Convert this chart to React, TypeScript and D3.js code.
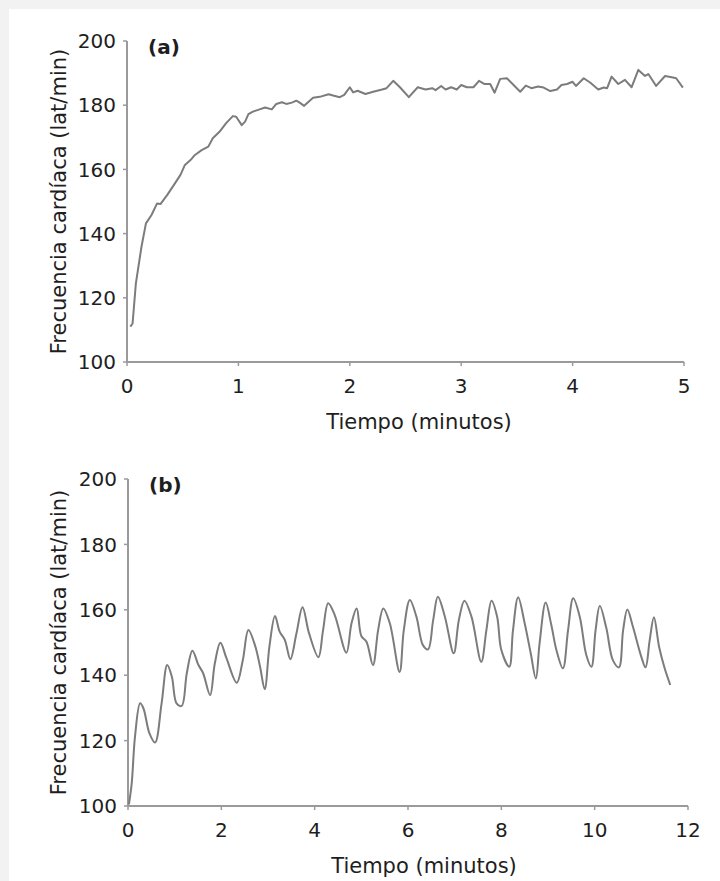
import React from 'react';
import { scaleLinear, line, curveLinear, curveCatmullRom } from 'd3';

// panel (a): continuous exercise, time in minutes and heart rate
const timeA = [
  0.03, 0.05, 0.08, 0.13, 0.17, 0.22, 0.27, 0.3, 0.36, 0.42, 0.48, 0.52, 0.57, 0.61, 0.67, 0.73, 0.77,
  0.83, 0.89, 0.95, 0.98, 1.03, 1.06, 1.09, 1.13, 1.19, 1.24, 1.3, 1.34, 1.39, 1.43, 1.48, 1.52, 1.55,
  1.59, 1.63, 1.67, 1.73, 1.81, 1.85, 1.91, 1.95, 2.0, 2.03, 2.07, 2.14, 2.21, 2.29, 2.33, 2.39, 2.45,
  2.53, 2.61, 2.68, 2.74, 2.77, 2.82, 2.86, 2.91, 2.96, 3.0, 3.05, 3.11, 3.16, 3.21, 3.26, 3.3, 3.35,
  3.41, 3.47, 3.53, 3.58, 3.63, 3.69, 3.74, 3.8, 3.86, 3.9, 3.95, 4.0, 4.03, 4.1, 4.16, 4.23, 4.28,
  4.31, 4.35, 4.41, 4.47, 4.53, 4.59, 4.65, 4.68, 4.75, 4.83, 4.89, 4.93, 4.99,
];
const heartRateA = [
  111, 112, 124.6, 135.9, 143.2, 145.8, 149.4, 149.2, 152, 155.1, 158.3, 161.4, 162.9, 164.5, 166, 167.1,
  169.7, 171.7, 174.4, 176.6, 176.4, 173.8, 174.9, 177.2, 178, 178.7, 179.3, 178.7, 180.4, 180.9, 180.4,
  180.8, 181.4, 180.8, 179.8, 181.1, 182.3, 182.6, 183.4, 183, 182.5, 183.2, 185.6, 184, 184.5, 183.5,
  184.2, 184.9, 185.3, 187.6, 185.6, 182.5, 185.6, 184.9, 185.3, 184.7, 186, 184.9, 185.6, 184.9, 186.3,
  185.6, 185.6, 187.6, 186.6, 186.6, 183.9, 188.2, 188.4, 186.3, 184.2, 186.1, 185.3, 185.8, 185.5,
  184.4, 184.9, 186.3, 186.6, 187.3, 186, 188.4, 187, 184.9, 185.5, 185.3, 188.9, 186.6, 187.9, 185.6,
  191, 189.1, 189.7, 186, 189.1, 188.7, 188.4, 185.5,
];

// panel (b): interval exercise
const timeB = [
  0.02, 0.08, 0.15, 0.26, 0.33, 0.46, 0.58, 0.72, 0.84, 0.94, 1.04, 1.15, 1.26, 1.38, 1.51, 1.61, 1.76,
  1.86, 1.98, 2.11, 2.33, 2.46, 2.58, 2.72, 2.83, 2.93, 3.03, 3.15, 3.25, 3.36, 3.48, 3.61, 3.74, 3.88,
  4.08, 4.18, 4.29, 4.43, 4.68, 4.79, 4.9, 5.0, 5.11, 5.25, 5.36, 5.47, 5.61, 5.82, 5.91, 6.04, 6.18,
  6.32, 6.43, 6.54, 6.64, 6.79, 6.98, 7.09, 7.21, 7.36, 7.57, 7.68, 7.79, 7.91, 8.0, 8.17, 8.25, 8.36,
  8.5, 8.63, 8.74, 8.82, 8.95, 9.07, 9.18, 9.32, 9.43, 9.54, 9.68, 9.82, 9.93, 10.02, 10.11, 10.25,
  10.39, 10.52, 10.61, 10.7, 10.82, 11.0, 11.09, 11.18, 11.27, 11.38, 11.5, 11.62,
];
const heartRateB = [
  100.5, 107, 121.2, 131.4, 129.9, 122.2, 119.4, 131.4, 143.1, 139.5, 131.4, 130.6, 140.6, 147.5, 143.1,
  140.6, 133.9, 143.6, 149.9, 145.2, 137.7, 144.6, 153.8, 149.2, 142.6, 135.7, 148.7, 158.1, 153.3,
  150.8, 144.9, 152.8, 160.8, 152.8, 145.5, 153.8, 162, 158.4, 146.9, 155.9, 160.4, 152, 150.2, 143.1,
  153.8, 160.4, 155.9, 141, 153.8, 163, 157.9, 149.2, 147.9, 156.9, 164, 157.9, 146.7, 156.9, 162.8,
  157.9, 144.1, 153.8, 162.8, 157.9, 147.7, 142.6, 153.8, 163.8, 155.9, 146.7, 139, 149.8, 162.2,
  155.4, 147.7, 142.1, 153.8, 163.5, 157.9, 146.2, 142.6, 153.8, 161.2, 154.4, 144.6, 142.4, 153.8,
  160.1, 154.8, 145.6, 142.4, 150.8, 157.7, 148.7, 142.1, 137,
];

const yTicks = [100, 120, 140, 160, 180, 200];
const xTicksA = [0, 1, 2, 3, 4, 5];
const xTicksB = [0, 2, 4, 6, 8, 10, 12];
const yTitle = 'Frecuencia cardíaca (lat/min)';
const xTitle = 'Tiempo (minutos)';

const font = '"DejaVu Sans", Verdana, sans-serif';
const axisColor = '#9a9a9a';
const lineColor = '#7c7c7c';
const textColor = '#1e1e1e';

type PanelProps = {
  time: number[];
  values: number[];
  xMax: number;
  xTicks: number[];
  left: number;
  right: number;
  top: number;
  bottom: number;
  tag: string;
  titleX: number;
  smooth: boolean;
};

const Panel = ({ time, values, xMax, xTicks, left, right, top, bottom, tag, titleX, smooth }: PanelProps) => {
  const xScale = scaleLinear().domain([0, xMax]).range([left, right]);
  const yScale = scaleLinear().domain([100, 200]).range([bottom, top]);

  const path = line<number>()
    .x((d, i) => xScale(time[i]))
    .y((d) => yScale(d))
    .curve(smooth ? curveCatmullRom : curveLinear)(values);

  return (
    <g fontFamily={font} fill={textColor}>
      {/* y axis */}
      <line x1={left} x2={left} y1={top} y2={bottom} stroke={axisColor} strokeWidth={2} />
      {yTicks.map((t) => (
        <g key={t}>
          <line x1={left - 4} x2={left} y1={yScale(t)} y2={yScale(t)} stroke={axisColor} strokeWidth={1.5} />
          <text x={left - 11} y={yScale(t)} dy="0.36em" textAnchor="end" fontSize={20}>
            {t}
          </text>
        </g>
      ))}
      {/* x axis */}
      <line x1={left} x2={right} y1={bottom} y2={bottom} stroke={axisColor} strokeWidth={2} />
      {xTicks.map((t) => (
        <g key={t}>
          <line x1={xScale(t)} x2={xScale(t)} y1={bottom} y2={bottom + 4} stroke={axisColor} strokeWidth={1.5} />
          <text x={xScale(t)} y={bottom + 31} textAnchor="middle" fontSize={20}>
            {t}
          </text>
        </g>
      ))}
      <text x={titleX} y={bottom + 67} textAnchor="middle" fontSize={21}>
        {xTitle}
      </text>
      <text
        transform={`translate(66, ${(top + bottom) / 2}) rotate(-90)`}
        textAnchor="middle"
        fontSize={21}
      >
        {yTitle}
      </text>
      <text x={left + 21} y={top + 13} fontSize={20} fontWeight="bold">
        {tag}
      </text>
      <path d={path ?? ''} fill="none" stroke={lineColor} strokeWidth={2} strokeLinejoin="round" />
    </g>
  );
};

const App = () => {
  return (
    <svg
      width={720}
      height={881}
      style={{ position: 'absolute', left: 0, top: 0, background: '#f2f2f2' }}
    >
      <rect x={9} y={9} width={711} height={872} fill="#ffffff" />
      <Panel
        time={timeA}
        values={heartRateA}
        xMax={5}
        xTicks={xTicksA}
        left={127}
        right={684}
        top={41}
        bottom={362}
        tag="(a)"
        titleX={419}
        smooth={false}
      />
      <Panel
        time={timeB}
        values={heartRateB}
        xMax={12}
        xTicks={xTicksB}
        left={128}
        right={688}
        top={479}
        bottom={806}
        tag="(b)"
        titleX={424}
        smooth={true}
      />
    </svg>
  );
};

export default App;
